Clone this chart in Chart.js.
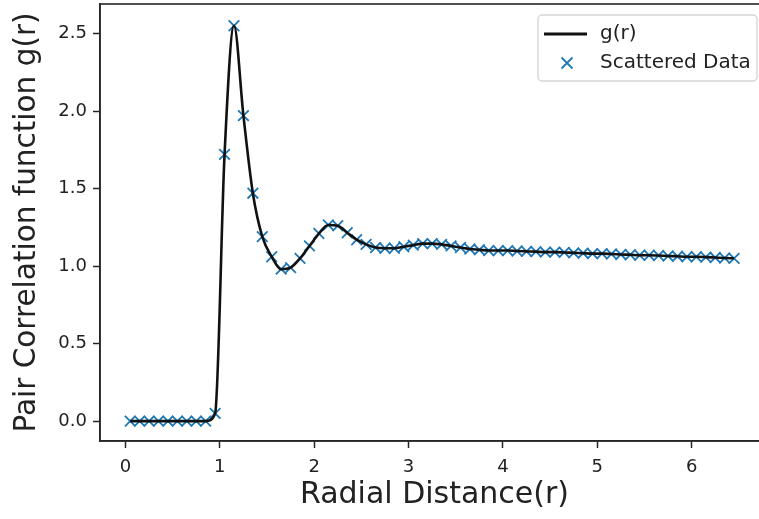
<!DOCTYPE html>
<html>
<head>
<meta charset="utf-8">
<script src="https://cdn.jsdelivr.net/npm/chart.js@4/dist/chart.umd.min.js"></script>
<style>
  html, body { margin: 0; padding: 0; background: #fff; }
  #wrap { width: 759px; height: 519px; overflow: hidden; }
  canvas { display: block; }
</style>
</head>
<body>
<div id="wrap"><canvas id="grChart" width="775" height="519"></canvas></div>
<script>
// radial distance samples and g(r)
const rValues = [
  0.05, 0.15, 0.25, 0.35, 0.45, 0.55, 0.65, 0.75, 0.85, 0.95,
  1.05, 1.15, 1.25, 1.35, 1.45, 1.55, 1.65, 1.75, 1.85, 1.95,
  2.05, 2.15, 2.25, 2.35, 2.45, 2.55, 2.65, 2.75, 2.85, 2.95,
  3.05, 3.15, 3.25, 3.35, 3.45, 3.55, 3.65, 3.75, 3.85, 3.95,
  4.05, 4.15, 4.25, 4.35, 4.45, 4.55, 4.65, 4.75, 4.85, 4.95,
  5.05, 5.15, 5.25, 5.35, 5.45, 5.55, 5.65, 5.75, 5.85, 5.95,
  6.05, 6.15, 6.25, 6.35, 6.45
];
const gValues = [
  0, 0, 0, 0, 0, 0, 0, 0, 0, 0.05,
  1.72, 2.55, 1.97, 1.47, 1.19, 1.06, 0.98, 0.99, 1.05, 1.13,
  1.21, 1.265, 1.26, 1.215, 1.17, 1.14, 1.12, 1.115, 1.115, 1.125,
  1.135, 1.145, 1.145, 1.14, 1.13, 1.12, 1.11, 1.105, 1.10, 1.10,
  1.10, 1.097, 1.095, 1.093, 1.09, 1.09, 1.088, 1.085, 1.083, 1.08,
  1.08, 1.078, 1.075, 1.073, 1.07, 1.07, 1.068, 1.065, 1.063, 1.06,
  1.06, 1.058, 1.055, 1.052, 1.05
];
const xTicks = [0, 1, 2, 3, 4, 5, 6];
const yTicks = [0, 0.5, 1, 1.5, 2, 2.5];

const points = rValues.map((r, i) => ({ x: r, y: gValues[i] }));
const FONT = "'DejaVu Sans', sans-serif";
const BLUE = "#1f77b4";

// matplotlib style frame + legend box
const framePlugin = {
  id: "frame",
  afterDatasetsDraw(chart) {
    const { ctx, chartArea: a } = chart;
    ctx.save();
    ctx.strokeStyle = "#262626";
    ctx.lineWidth = 1.6;
    ctx.strokeRect(a.left, a.top, a.right - a.left, a.bottom - a.top);

    // legend
    const w = 219, h = 66;
    const x0 = a.right - 12 - w, y0 = a.top + 11;
    ctx.beginPath();
    ctx.roundRect(x0, y0, w, h, 4);
    ctx.fillStyle = "rgba(255,255,255,0.8)";
    ctx.fill();
    ctx.strokeStyle = "#d6d6d6";
    ctx.lineWidth = 1.4;
    ctx.stroke();

    const row1 = y0 + 19, row2 = y0 + 48;
    ctx.beginPath();
    ctx.moveTo(x0 + 6, row1);
    ctx.lineTo(x0 + 49, row1);
    ctx.strokeStyle = "#111";
    ctx.lineWidth = 2.8;
    ctx.stroke();

    const cx = x0 + 29, d = 5.5;
    ctx.beginPath();
    ctx.moveTo(cx - d, row2 - d); ctx.lineTo(cx + d, row2 + d);
    ctx.moveTo(cx - d, row2 + d); ctx.lineTo(cx + d, row2 - d);
    ctx.strokeStyle = BLUE;
    ctx.lineWidth = 1.8;
    ctx.stroke();

    ctx.fillStyle = "#222";
    ctx.font = "20px " + FONT;
    ctx.textBaseline = "middle";
    ctx.textAlign = "left";
    const labels = chart.data.datasets.map(ds => ds.label);
    ctx.fillText(labels[0], x0 + 62, row1);
    ctx.fillText(labels[1], x0 + 62, row2);
    ctx.restore();
  }
};

new Chart(document.getElementById("grChart"), {
  type: "line",
  data: {
    datasets: [
      {
        label: "g(r)",
        data: points,
        borderColor: "#111",
        borderWidth: 2.6,
        pointRadius: 0,
        cubicInterpolationMode: "monotone",
        fill: false
      },
      {
        type: "scatter",
        label: "Scattered Data",
        data: points,
        showLine: false,
        pointStyle: "crossRot",
        pointRadius: 7.5,
        pointBorderWidth: 1.8,
        borderColor: BLUE,
        backgroundColor: BLUE
      }
    ]
  },
  options: {
    responsive: false,
    animation: false,
    devicePixelRatio: 1,
    layout: { autoPadding: false, padding: { top: 4, right: 6, left: 0, bottom: 0 } },
    plugins: { legend: { display: false }, tooltip: { enabled: false } },
    scales: {
      x: {
        type: "linear",
        min: -0.27,
        max: 6.82,
        afterFit: s => { s.height = 78; s.paddingLeft = 0; s.paddingRight = 0; },
        afterBuildTicks: s => { s.ticks = xTicks.map(v => ({ value: v })); },
        grid: { drawOnChartArea: false, tickLength: 7, tickWidth: 1.5, color: "#262626" },
        border: { display: true, color: "#262626", width: 1.6 },
        ticks: { color: "#222", font: { family: FONT, size: 18 }, padding: 9, maxRotation: 0 },
        title: {
          display: true,
          text: "Radial Distance(r)",
          color: "#222",
          font: { family: FONT, size: 30, lineHeight: 1 },
          padding: { top: 0, bottom: 9 }
        }
      },
      y: {
        min: -0.128,
        max: 2.69,
        afterFit: s => { s.width = 100; s.paddingTop = 0; s.paddingBottom = 0; },
        afterBuildTicks: s => { s.ticks = yTicks.map(v => ({ value: v })); },
        grid: { drawOnChartArea: false, tickLength: 7, tickWidth: 1.5, color: "#262626" },
        border: { display: true, color: "#262626", width: 1.6 },
        ticks: { color: "#222", font: { family: FONT, size: 18 }, padding: 6, callback: v => v.toFixed(1) },
        title: {
          display: true,
          text: "Pair Correlation function g(r)",
          color: "#222",
          font: { family: FONT, size: 29.5, lineHeight: 1 },
          padding: { top: 13, bottom: 0 }
        }
      }
    }
  },
  plugins: [framePlugin]
});
</script>
</body>
</html>
